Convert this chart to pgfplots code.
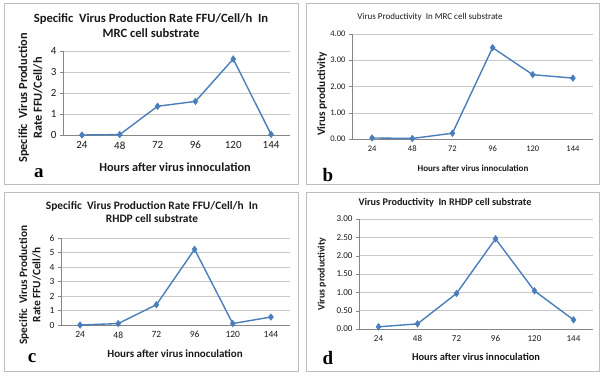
\documentclass[border=0pt]{standalone}
\usepackage{pgfplots}
\pgfplotsset{compat=1.18}
\usepackage{fontspec}
\setmainfont{Carlito}
\newfontfamily\letterfont{Liberation Serif}
\definecolor{xlblue}{RGB}{74,126,187}
\definecolor{xlgrid}{RGB}{200,200,200}
\definecolor{xlaxis}{RGB}{134,134,134}
\definecolor{xlframe}{RGB}{190,190,190}
\definecolor{txt}{RGB}{25,25,25}
\newcommand{\fs}[1]{\fontsize{#1}{#1}\selectfont}
\pgfplotsset{
  xlstyle/.style={
    scale only axis,
    axis x line=bottom, axis y line=left,
    axis line style={-, xlaxis},
    xmin=12, xmax=156, ymin=0,
    xtick={24,48,72,96,120,144},
    major x tick style={draw=none},
    extra x ticks={12,36,60,84,108,132,156},
    extra x tick labels={},
    extra x tick style={major tick length=3pt, tick style={xlaxis}, grid=none},
    tick align=outside,
    ymajorgrids, grid style={xlgrid},
    major tick length=3pt,
    ytick style={xlaxis},
    clip=false,
    tick label style={text=txt},
    /pgf/number format/assume math mode=true,
  },
  xlline/.style={xlblue, line width=1.4pt, mark=diamond*, mark size=3.3pt, mark options={fill=xlblue, draw=xlblue, line width=0.5pt}},
}
\begin{document}
\begin{tikzpicture}
\path (0pt,0pt) rectangle (605pt,376pt);
% frames
\draw[xlframe, line width=0.8pt] (4pt,373pt) rectangle (298pt,192pt);
\draw[xlframe, line width=0.8pt] (306pt,373pt) rectangle (599pt,192pt);
\draw[xlframe, line width=0.8pt] (4pt,184pt) rectangle (298pt,5pt);
\draw[xlframe, line width=0.8pt] (306pt,184pt) rectangle (599pt,5pt);

% ---------- a ----------
\begin{axis}[xlstyle, at={(63pt,241pt)}, anchor=south west, width=227pt, height=84pt,
  ymax=4, ytick={0,1,2,3,4}, tick label style={font=\fs{11}}]
\addplot[xlline] coordinates {(24,0) (48,0.02) (72,1.37) (96,1.6) (120,3.62) (144,0.03)};
\end{axis}
\node[font=\fs{12.6}\bfseries, text=txt, align=center] at (151pt,350.5pt) {Specific\ \ Virus Production Rate FFU/Cell/h\ \ In\\[2.5pt]MRC cell substrate};
\node[font=\fs{12.3}\bfseries, text=txt] at (175pt,209pt) {Hours after virus innoculation};
\node[font=\fs{12.3}\bfseries, text=txt, rotate=90, align=center] at (30.5pt,278pt) {Specific\ \ Virus Production\\[2.5pt]Rate FFU/Cell/h};
\node[font=\letterfont\fs{19}\bfseries] at (39pt,203pt) {a};

% ---------- b ----------
\begin{axis}[xlstyle, at={(352pt,237pt)}, anchor=south west, width=241pt, height=105pt,
  ymax=4, ytick={0,1,2,3,4}, tick label style={font=\fs{8.5}},
  yticklabel style={/pgf/number format/.cd, fixed, fixed zerofill, precision=2}]
\addplot[xlline] coordinates {(24,0.04) (48,0.02) (72,0.22) (96,3.48) (120,2.45) (144,2.32)};
\end{axis}
\node[font=\fs{9}, text=txt] at (430pt,359pt) {Virus Productivity\ \ In MRC cell substrate};
\node[font=\fs{9}\bfseries, text=txt] at (473pt,208pt) {Hours after virus innoculation};
\node[font=\fs{11.3}\bfseries, text=txt, rotate=90] at (322pt,282pt) {Virus productivity};
\node[font=\letterfont\fs{19}\bfseries] at (328pt,201pt) {b};

% ---------- c ----------
\begin{axis}[xlstyle, at={(61pt,51pt)}, anchor=south west, width=229pt, height=87pt,
  ymax=6, ytick={0,1,2,3,4,5,6}, tick label style={font=\fs{9.5}}]
\addplot[xlline] coordinates {(24,0) (48,0.1) (72,1.4) (96,5.22) (120,0.1) (144,0.55)};
\end{axis}
\node[font=\fs{11.4}\bfseries, text=txt, align=center] at (152pt,164pt) {Specific\ \ Virus Production Rate FFU/Cell/h\ \ In\\[2pt]RHDP cell substrate};
\node[font=\fs{11}\bfseries, text=txt] at (175pt,22pt) {Hours after virus innoculation};
\node[font=\fs{11.3}\bfseries, text=txt, rotate=90, align=center] at (30pt,91pt) {Specific\ \ Virus Production\\[2pt]Rate FFU/Cell/h};
\node[font=\letterfont\fs{19}\bfseries] at (32pt,18pt) {c};

% ---------- d ----------
\begin{axis}[xlstyle, at={(359pt,47pt)}, anchor=south west, width=234pt, height=110pt,
  ymax=3, ytick={0,0.5,1,1.5,2,2.5,3}, tick label style={font=\fs{9}},
  yticklabel style={/pgf/number format/.cd, fixed, fixed zerofill, precision=2}]
\addplot[xlline] coordinates {(24,0.06) (48,0.14) (72,0.97) (96,2.46) (120,1.04) (144,0.25)};
\end{axis}
\node[font=\fs{10.2}\bfseries, text=txt] at (445pt,173pt) {Virus Productivity\ \ In RHDP cell substrate};
\node[font=\fs{10.4}\bfseries, text=txt] at (476pt,19pt) {Hours after virus innoculation};
\node[font=\fs{9.8}\bfseries, text=txt, rotate=90] at (322pt,102pt) {Virus productivity};
\node[font=\letterfont\fs{19}\bfseries] at (328pt,18pt) {d};
\end{tikzpicture}
\end{document}
